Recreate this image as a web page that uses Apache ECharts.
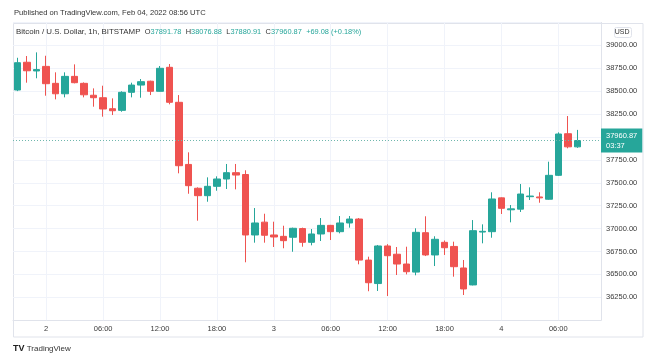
<!DOCTYPE html>
<html><head><meta charset="utf-8">
<script src="https://cdn.jsdelivr.net/npm/echarts@6/dist/echarts.min.js"></script>
<style>html,body{margin:0;padding:0;background:#fff}#c{width:665px;height:359px}</style>
</head><body><div id="c"></div>
<script>
// hourly candles, Feb 1 21:00 .. Feb 4 08:00 UTC (plus 2 empty trailing slots)
const categories = [
'02-01 21:00','02-01 22:00','02-01 23:00',
'02-02 00:00','02-02 01:00','02-02 02:00','02-02 03:00','02-02 04:00','02-02 05:00','02-02 06:00','02-02 07:00','02-02 08:00','02-02 09:00','02-02 10:00','02-02 11:00',
'02-02 12:00','02-02 13:00','02-02 14:00','02-02 15:00','02-02 16:00','02-02 17:00','02-02 18:00','02-02 19:00','02-02 20:00','02-02 21:00','02-02 22:00','02-02 23:00',
'02-03 00:00','02-03 01:00','02-03 02:00','02-03 03:00','02-03 04:00','02-03 05:00','02-03 06:00','02-03 07:00','02-03 08:00','02-03 09:00','02-03 10:00','02-03 11:00',
'02-03 12:00','02-03 13:00','02-03 14:00','02-03 15:00','02-03 16:00','02-03 17:00','02-03 18:00','02-03 19:00','02-03 20:00','02-03 21:00','02-03 22:00','02-03 23:00',
'02-04 00:00','02-04 01:00','02-04 02:00','02-04 03:00','02-04 04:00','02-04 05:00','02-04 06:00','02-04 07:00','02-04 08:00','02-04 09:00','02-04 10:00'
];
const opens = [38512,38815,38720,38770,38585,38471,38661,38585,38455,38428,38308,38290,38487,38566,38608,38498,38760,38378,37700,37440,
37359,37461,37541,37610,37590,36930,37070,36930,36915,36905,37000,36850,36941,37035,36966,37061,37104,36656,36400,36810,
36720,36613,36525,36955,36712,36850,36805,36570,36385,36962,36966,37335,37205,37212,37348,37345,37320,37581,38035,37891.78];
const highs = [38864,38883,38923,38886,38705,38705,38792,38595,38530,38559,38421,38498,38592,38632,38614,38774,38796,38457,37832,37450,
37559,37570,37705,37705,37636,37224,37162,37075,37031,37010,37010,36995,37115,37040,37137,37137,37115,36693,36821,36830,
36799,36802,37003,37134,36916,36870,36857,36657,37093,37046,37396,37340,37257,37486,37450,37396,37730,38050,38228,38076.88];
const lows = [38500,38592,38640,38450,38410,38432,38585,38432,38330,38221,38239,38275,38432,38428,38457,38495,38356,37603,37380,37086,
37293,37413,37432,37428,36632,36846,36846,36799,36785,36747,36802,36817,36864,36875,36948,37010,36610,36316,36319,36264,
36493,36500,36490,36700,36591,36712,36475,36275,36380,36839,36900,37159,37068,37181,37312,37282,37315,37575,37876,37880.91];
const closes = [38810,38722,38735,38581,38471,38661,38592,38460,38428,38305,38286,38487,38566,38603,38498,38749,38378,37686,37468,37359,
37461,37541,37610,37584,36930,37061,36927,36908,36868,37003,36850,36941,37035,36966,37061,37104,36656,36409,36810,36704,
36613,36529,36959,36712,36883,36791,36584,36341,36977,36970,37323,37221,37215,37377,37355,37335,37581,38032,37892,37960.87];

const priceTickMin = 36000, priceTickMax = 39250, priceTickStep = 250;
const timeGridHours = ['00:00','06:00','12:00','18:00'];
const lastPrice = 37960.87;
const countdown = '03:37';
const header = 'Published on TradingView.com, Feb 04, 2022 08:56 UTC';
const symbolTitle = 'Bitcoin / U.S. Dollar, 1h, BITSTAMP';
const ohlc = {O: '37891.78', H: '38076.88', L: '37880.91', C: '37960.87', chg: '+69.08 (+0.18%)'};

const UP = '#26a69a', DOWN = '#ef5350', GRID = '#f0f3fa', BORDER = '#e0e3eb';
const FONT = '"Liberation Sans", Arial, sans-serif';

const candleData = opens.map((o, i) => [o, closes[i], lows[i], highs[i]]);
const gridIdx = categories.map((c, i) => timeGridHours.includes(c.slice(6)) ? i : -1).filter(i => i >= 0);

const chart = echarts.init(document.getElementById('c'), null, {renderer: 'canvas'});
chart.setOption({
  animation: false,
  backgroundColor: '#fff',
  grid: {left: 13, right: 64, top: 22.4, bottom: 38.8},
  xAxis: {
    type: 'category', data: categories, boundaryGap: true,
    axisLine: {show: true, lineStyle: {color: BORDER}},
    axisTick: {show: false},
    splitLine: {show: false},
    axisLabel: {
      interval: (idx, val) => timeGridHours.includes(val.slice(6)),
      formatter: v => v.slice(6) === '00:00' ? String(parseInt(v.slice(3, 5), 10)) : v.slice(6),
      color: '#3a3a3a', fontSize: 7.5, fontFamily: FONT, margin: 4.5
    }
  },
  yAxis: {
    type: 'value', position: 'right', scale: true,
    min: priceTickMin, max: priceTickMax, interval: priceTickStep,
    axisLine: {show: true, lineStyle: {color: BORDER}},
    axisTick: {show: false},
    splitLine: {show: true, lineStyle: {color: GRID, width: 1}},
    axisLabel: {
      showMinLabel: false, showMaxLabel: false,
      formatter: v => v.toFixed(2), color: '#3a3a3a', fontSize: 7.5, fontFamily: FONT, margin: 5
    }
  },
  series: [
    {
      type: 'line', data: [], silent: true, z: 1,
      markLine: {
        silent: true, symbol: 'none', z: 1, animation: false,
        label: {show: false},
        lineStyle: {color: GRID, type: 'solid', width: 1},
        data: gridIdx.map(i => ({xAxis: i}))
      }
    },
    {
      type: 'candlestick', data: candleData, barWidth: 7, z: 3,
      itemStyle: {color: UP, color0: DOWN, borderColor: UP, borderColor0: DOWN, borderWidth: 1},
      markLine: {
        silent: true, symbol: 'none', animation: false,
        lineStyle: {color: '#6fb7ad', type: [1, 2], width: 1},
        label: {
          show: true, position: 'end', distance: 0,
          formatter: () => lastPrice.toFixed(2) + '\n' + countdown,
          backgroundColor: UP, color: '#fff', fontSize: 7.5, fontFamily: FONT,
          lineHeight: 10, padding: [2, 5, 2, 5], align: 'left'
        },
        data: [{yAxis: lastPrice}]
      }
    }
  ],
  graphic: [
    {type: 'rect', silent: true, z: 0, shape: {x: 13.5, y: 23.5, width: 629.5, height: 313.5},
     style: {fill: 'none', stroke: BORDER, lineWidth: 1}},
    {type: 'text', left: 14, top: 9, silent: true,
     style: {text: header, fill: '#333', font: '7.6px ' + FONT}},
    {type: 'text', left: 16, top: 28, silent: true, z: 10,
     style: {
       text: symbolTitle + '  {k|O}{v|' + ohlc.O + '}  {k|H}{v|' + ohlc.H + '}  {k|L}{v|' + ohlc.L + '}  {k|C}{v|' + ohlc.C + '}  {v|' + ohlc.chg + '}',
       fill: '#333', font: '7.9px ' + FONT,
       rich: {k: {fill: '#333', font: '7.4px ' + FONT}, v: {fill: UP, font: '7.4px ' + FONT}}
     }},
    {type: 'rect', right: 33, top: 27, silent: true, shape: {width: 17, height: 10, r: 2},
     style: {fill: '#fff', stroke: BORDER}},
    {type: 'text', right: 35.5, top: 28.5, silent: true,
     style: {text: 'USD', fill: '#333', font: '7px ' + FONT}},
    {type: 'text', left: 13, top: 344, silent: true,
     style: {text: '{b|TV} TradingView', fill: '#333', font: '8px ' + FONT,
       rich: {b: {font: 'bold 9px ' + FONT, fill: '#222'}}}}
  ]
});
</script></body></html>
